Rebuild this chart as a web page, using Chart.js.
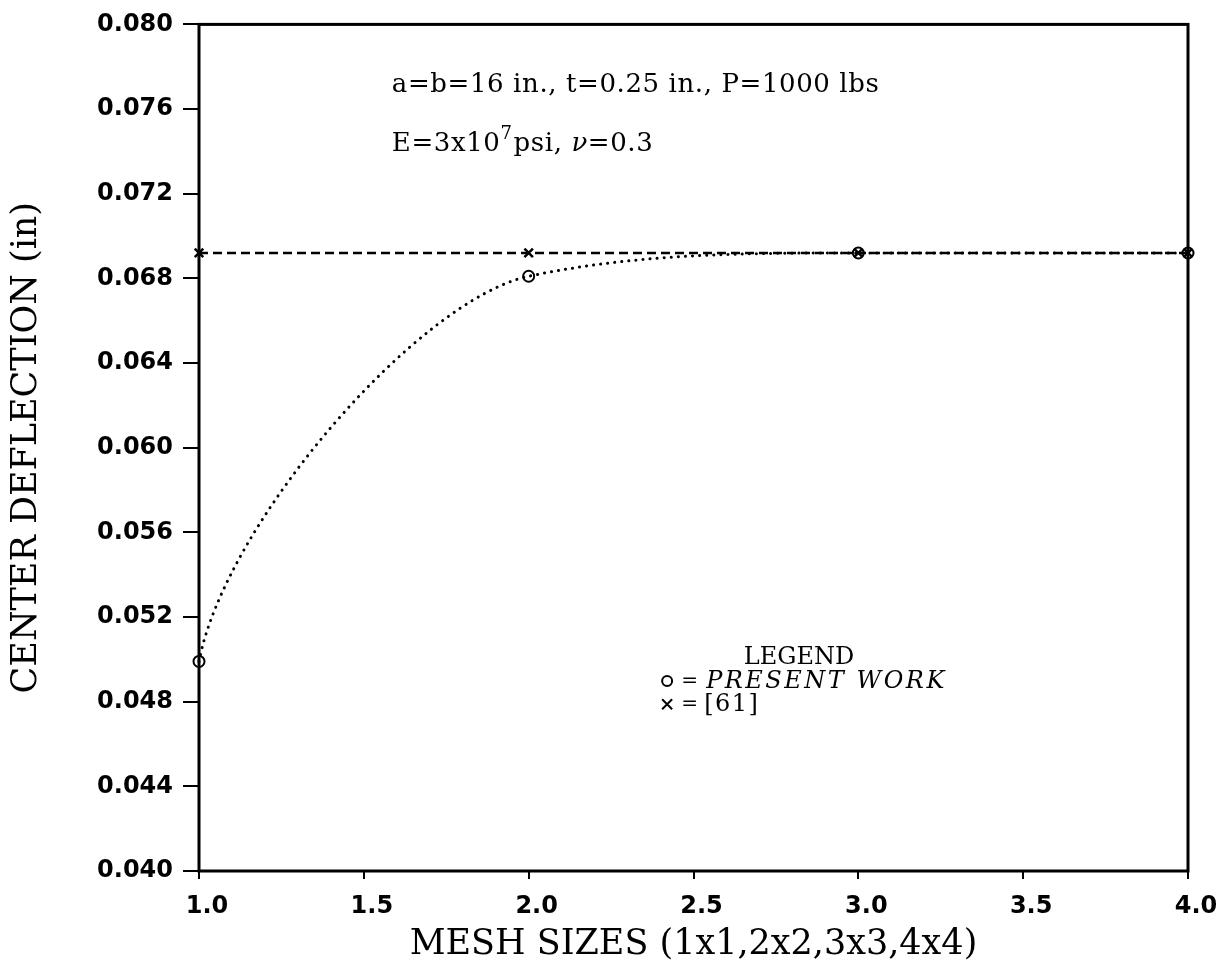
<!DOCTYPE html>
<html>
<head>
<meta charset="utf-8">
<script src="https://cdn.jsdelivr.net/npm/chart.js@4.4.1/dist/chart.umd.min.js"></script>
<style>
  html, body { margin: 0; padding: 0; background: #fff; }
  canvas { display: block; }
</style>
</head>
<body>
<canvas id="deflection-chart" width="1225" height="972"></canvas>
<script>
// mesh size (n for an n x n mesh) and centre deflection in inches
const meshSizes = [1, 2, 3, 4];
const presentWork = [0.0499, 0.0681, 0.0692, 0.0692];
const refSixtyOne = [0.0692, 0.0692, 0.0692, 0.0692];

const xTickValues = [1.0, 1.5, 2.0, 2.5, 3.0, 3.5, 4.0];
const yTickValues = [0.040, 0.044, 0.048, 0.052, 0.056, 0.060, 0.064, 0.068, 0.072, 0.076, 0.080];

const noteText = 'a=b=16 in., t=0.25 in., P=1000 lbs';
const legendTitle = 'LEGEND';
const legendPresent = 'PRESENT WORK';
const legendRef = '[61]';

const tickFont = { family: "'DejaVu Sans'", size: 24, weight: 'bold' };
const serif = "'DejaVu Serif'";

const toPoints = ys => meshSizes.map((m, i) => ({ x: m, y: ys[i] }));

const framePlugin = {
  id: 'frameAndNotes',
  beforeDatasetsDraw(chart) {
    const { ctx, chartArea: a } = chart;
    ctx.save();
    ctx.strokeStyle = '#000';
    ctx.lineWidth = 3;
    ctx.strokeRect(a.left, a.top, a.right - a.left, a.bottom - a.top);
    ctx.restore();
  },
  beforeDatasetDraw(chart, args) {
    if (args.index !== 0) return;
    // monotone spline, but leave the first point almost vertically like the fitted curve
    args.meta.dataset.updateControlPoints(chart.chartArea, 'x');
    const pts = args.meta.data;
    const p0 = pts[0], p1 = pts[1];
    p0.cp2x = p0.x + 0.08 * (p1.x - p0.x);
    p0.cp2y = p0.y + 0.36 * (p1.y - p0.y);
  },
  afterDraw(chart) {
    const { ctx, scales: { x, y } } = chart;
    ctx.save();
    ctx.fillStyle = '#000';
    ctx.strokeStyle = '#000';
    ctx.textBaseline = 'alphabetic';

    // plate data
    const nx = x.getPixelForValue(1.585);
    ctx.letterSpacing = '0.6px';
    ctx.font = `26px ${serif}`;
    ctx.textAlign = 'left';
    ctx.fillText(noteText, nx, y.getPixelForValue(0.0768));
    const by = y.getPixelForValue(0.0740);
    let cx = nx;
    ctx.fillText('E=3x10', cx, by);
    cx += ctx.measureText('E=3x10').width;
    ctx.font = `18px ${serif}`;
    ctx.fillText('7', cx, by - 12);
    cx += ctx.measureText('7').width + 1;
    ctx.font = `26px ${serif}`;
    ctx.fillText('psi, ', cx, by);
    cx += ctx.measureText('psi, ').width;
    ctx.font = `italic 26px ${serif}`;
    ctx.fillText('\u03bd', cx, by);
    cx += ctx.measureText('\u03bd').width;
    ctx.font = `26px ${serif}`;
    ctx.fillText('=0.3', cx, by);

    // legend block
    ctx.letterSpacing = '0px';
    ctx.font = `24px ${serif}`;
    ctx.textAlign = 'center';
    ctx.fillText(legendTitle, x.getPixelForValue(2.82), y.getPixelForValue(0.0498));
    const sx = x.getPixelForValue(2.42);
    const r1 = y.getPixelForValue(0.04865);
    const r2 = y.getPixelForValue(0.04755);
    ctx.lineWidth = 2;
    ctx.beginPath();
    ctx.arc(sx, r1 - 7, 5, 0, Math.PI * 2);
    ctx.stroke();
    ctx.beginPath();
    ctx.moveTo(sx - 5, r2 - 12); ctx.lineTo(sx + 5, r2 - 2);
    ctx.moveTo(sx + 5, r2 - 12); ctx.lineTo(sx - 5, r2 - 2);
    ctx.stroke();
    ctx.textAlign = 'left';
    ctx.font = `20px ${serif}`;
    ctx.fillText('=', sx + 14, r1 - 1);
    ctx.fillText('=', sx + 14, r2 - 1);
    ctx.font = `24px ${serif}`;
    ctx.letterSpacing = '1.5px';
    ctx.fillText(legendRef, sx + 37, r2);
    ctx.letterSpacing = '2.5px';
    ctx.font = `italic 24px ${serif}`;
    ctx.fillText(legendPresent, sx + 39, r1);
    ctx.restore();
  }
};

new Chart(document.getElementById('deflection-chart'), {
  type: 'line',
  data: {
    datasets: [
      {
        label: 'PRESENT WORK',
        data: toPoints(presentWork),
        borderColor: '#000',
        borderWidth: 3,
        borderDash: [0.1, 7],
        borderCapStyle: 'round',
        cubicInterpolationMode: 'monotone',
        pointStyle: 'circle',
        pointRadius: 5.5,
        pointBorderWidth: 2,
        pointBorderColor: '#000',
        pointBackgroundColor: 'rgba(0,0,0,0)',
        clip: false
      },
      {
        label: '[61]',
        data: toPoints(refSixtyOne),
        borderColor: '#000',
        borderWidth: 2.5,
        borderDash: [9, 5],
        tension: 0,
        pointStyle: 'crossRot',
        pointRadius: 6,
        pointBorderWidth: 2.5,
        pointBorderColor: '#000',
        clip: false
      }
    ]
  },
  options: {
    responsive: false,
    animation: false,
    devicePixelRatio: 1,
    layout: { padding: { top: 22, right: 37, left: 0, bottom: 0 } },
    plugins: { legend: { display: false }, tooltip: { enabled: false } },
    scales: {
      x: {
        type: 'linear',
        min: 1,
        max: 4,
        afterBuildTicks: s => { s.ticks = xTickValues.map(v => ({ value: v })); },
        afterFit: s => { s.height = 101; },
        border: { display: false },
        grid: { drawOnChartArea: false, drawTicks: true, tickLength: 8, lineWidth: 2, color: '#000' },
        ticks: {
          color: '#000',
          font: tickFont,
          padding: 13,
          labelOffset: 8,
          maxRotation: 0,
          autoSkip: false,
          callback: v => v.toFixed(1)
        },
        title: {
          display: true,
          text: 'MESH SIZES (1x1,2x2,3x3,4x4)',
          color: '#000',
          font: { family: serif, size: 35 },
          padding: { top: 0, bottom: 6 }
        }
      },
      y: {
        type: 'linear',
        min: 0.040,
        max: 0.080,
        afterBuildTicks: s => { s.ticks = yTickValues.map(v => ({ value: v })); },
        afterFit: s => { s.width = 199; },
        border: { display: false },
        grid: { drawOnChartArea: false, drawTicks: true, tickLength: 16, lineWidth: 2, color: '#000' },
        ticks: {
          color: '#000',
          font: tickFont,
          padding: 10,
          autoSkip: false,
          callback: v => v.toFixed(3)
        },
        title: {
          display: true,
          text: 'CENTER DEFLECTION (in)',
          color: '#000',
          font: { family: serif, size: 35 },
          padding: { top: 6, bottom: 0 }
        }
      }
    }
  },
  plugins: [framePlugin]
});
</script>
</body>
</html>
